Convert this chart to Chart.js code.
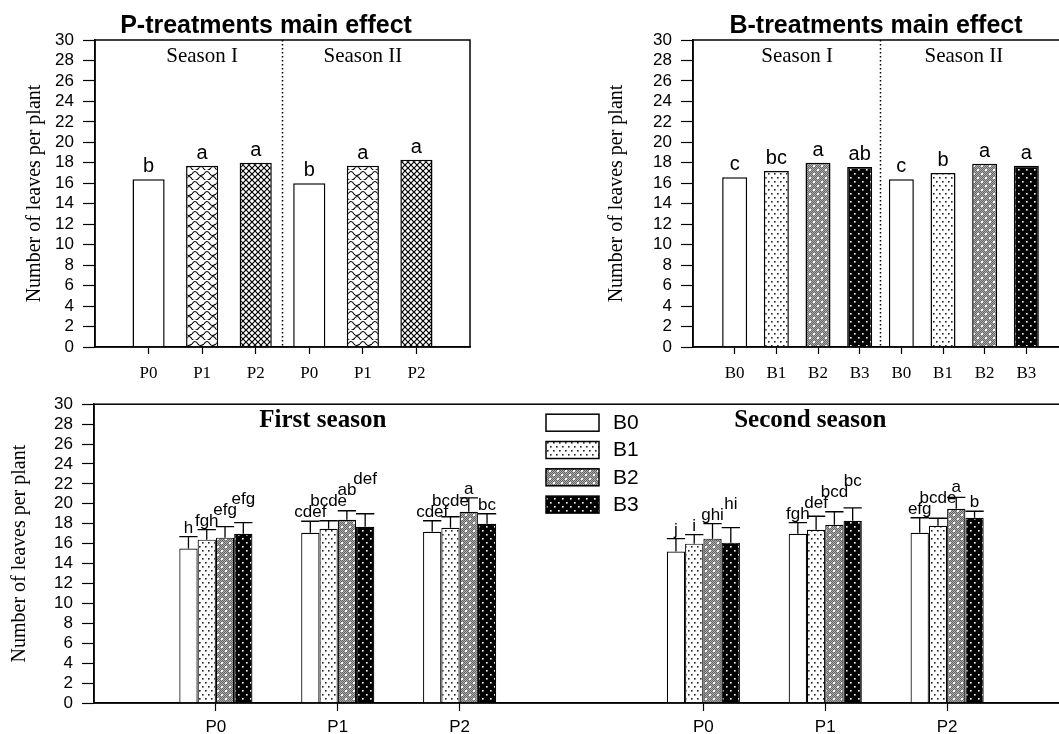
<!DOCTYPE html>
<html>
<head>
<meta charset="utf-8">
<script src="https://cdn.jsdelivr.net/npm/chart.js@4.4.1/dist/chart.umd.min.js"></script>
<style>
  html, body { margin: 0; padding: 0; background: #fff; overflow: hidden; width: 1059px; height: 734px; }
  canvas { position: absolute; }
</style>
</head>
<body>
<canvas id="pChart" width="532" height="385" style="left:0;top:0"></canvas>
<canvas id="bChart" width="632" height="385" style="left:560px;top:0"></canvas>
<canvas id="intChart" width="1100" height="349" style="left:0;top:385px"></canvas>
<script>
// ---- data ----
const pLabels = ['P0', 'P1', 'P2'];
const bLabels = ['B0', 'B1', 'B2', 'B3'];
const seasonLabels = ['Season I', 'Season II'];
const interSeasons = ['First season', 'Second season'];
const yMin = 0, yMax = 30, yStep = 2;

// P-treatments main effect: season I P0-P2, season II P0-P2
const pMeans = [16.4, 17.7, 18.0, 16.0, 17.7, 18.3];
const pLetters = ['b', 'a', 'a', 'b', 'a', 'a'];

// B-treatments main effect: season I B0-B3, season II B0-B3
const bMeans = [16.6, 17.2, 18.0, 17.6, 16.4, 17.0, 17.9, 17.7];
const bLetters = ['c', 'bc', 'a', 'ab', 'c', 'b', 'a', 'a'];

// P x B: first season P0-P2, then second season P0-P2
const b0Means = [15.5, 17.1, 17.2, 15.2, 17.0, 17.1];
const b1Means = [16.4, 17.5, 17.6, 16.0, 17.4, 17.8];
const b2Means = [16.6, 18.4, 19.2, 16.5, 17.9, 19.5];
const b3Means = [17.0, 17.7, 18.0, 16.1, 18.3, 18.6];
const b0Err = [1.2, 1.15, 1.1, 1.3, 1.1, 1.5];
const b1Err = [1.0, 0.8, 1.1, 0.9, 1.35, 0.75];
const b2Err = [1.1, 0.9, 1.4, 1.5, 1.3, 1.15];
const b3Err = [1.1, 1.3, 1.0, 1.5, 1.3, 0.65];
const b0Sig = ['h', 'cdef', 'cdef', 'j', 'fgh', 'efg'];
const b1Sig = ['fgh', 'bcde', 'bcde', 'i', 'def', 'bcde'];
const b2Sig = ['efg', 'ab', 'a', 'ghi', 'bcd', 'a'];
const b3Sig = ['efg', 'def', 'bc', 'hi', 'bc', 'b'];

const SANS = 'Arial, "Liberation Sans", sans-serif';
const SERIF = '"Times New Roman", "Liberation Serif", serif';

Chart.defaults.font.family = SANS;
Chart.defaults.color = '#000';
Chart.defaults.animation = false;

// ---- fill patterns ----
function makePattern(w, h, draw) {
  const c = document.createElement('canvas');
  c.width = w; c.height = h;
  const g = c.getContext('2d');
  draw(g, w, h);
  return g.createPattern(c, 'repeat');
}
const wavePat = makePattern(12, 10, (g, w, h) => {
  g.fillStyle = '#fff'; g.fillRect(0, 0, w, h);
  g.strokeStyle = '#000'; g.lineWidth = 1.2;
  g.beginPath();
  g.moveTo(0, 4); g.quadraticCurveTo(3, -1, 6, 4); g.quadraticCurveTo(8, 7, 12, 4);
  g.moveTo(-6, 9); g.quadraticCurveTo(-3, 4, 0, 9);
  g.moveTo(6, 9); g.quadraticCurveTo(9, 4, 12, 9); g.quadraticCurveTo(14, 12, 18, 9);
  g.moveTo(0, 9); g.quadraticCurveTo(2, 12, 6, 9);
  g.stroke();
});
const crossPat = makePattern(6, 6, (g, w, h) => {
  g.fillStyle = '#fff'; g.fillRect(0, 0, w, h);
  g.strokeStyle = '#000'; g.lineWidth = 1.2;
  g.beginPath();
  g.moveTo(-1, -1); g.lineTo(7, 7);
  g.moveTo(7, -1); g.lineTo(-1, 7);
  g.stroke();
});
const dotPat = makePattern(6, 8, (g, w, h) => {
  g.fillStyle = '#fff'; g.fillRect(0, 0, w, h);
  g.fillStyle = '#222';
  g.fillRect(1, 1, 1.6, 1.6);
  g.fillRect(4, 5, 1.6, 1.6);
});
const grayPat = makePattern(8, 8, (g, w, h) => {
  g.fillStyle = '#666'; g.fillRect(0, 0, w, h);
  g.fillStyle = '#aaa';
  for (let x = 0; x < w; x++) for (let y = 0; y < h; y++) if ((x + y) % 2 === 0) g.fillRect(x, y, 1, 1);
  g.fillStyle = '#fff';
  g.fillRect(1, 1, 2, 2);
  g.fillRect(5, 5, 2, 2);
});
const blackPat = makePattern(8, 8, (g, w, h) => {
  g.fillStyle = '#000'; g.fillRect(0, 0, w, h);
  g.fillStyle = '#fff';
  g.fillRect(2, 1, 1.6, 1.6);
  g.fillRect(6, 5, 1.6, 1.6);
});

const pFills = ['#fff', wavePat, crossPat];
const bFills = ['#fff', dotPat, grayPat, blackPat];

// ---- axes helpers ----
function yAxis(width, titlePad) {
  return {
    min: yMin, max: yMax,
    ticks: { stepSize: yStep, autoSkip: false, font: { size: 17 }, color: '#000', padding: 9 },
    grid: { drawOnChartArea: false, drawTicks: true, tickLength: 12, tickColor: '#000', tickWidth: 1.2 },
    border: { display: true, color: '#000', width: 1.5 },
    title: { display: true, text: 'Number of leaves per plant', color: '#000',
             font: { family: SERIF, size: 20 }, padding: { top: titlePad, bottom: 0 } },
    afterFit: s => { s.width = width; }
  };
}
function xAxis(labels, height, font, tickLen, pad) {
  return {
    type: 'category',
    offset: false,
    grid: { offset: false, drawOnChartArea: false, drawTicks: true, tickLength: tickLen, tickColor: '#000', tickWidth: 1.2 },
    border: { display: true, color: '#000', width: 1.5 },
    ticks: { autoSkip: false, maxRotation: 0, font: font, color: '#000', padding: pad },
    afterBuildTicks: s => { s.ticks = s.ticks.filter(t => labels[t.value] !== ''); },
    afterFit: s => { s.height = height; }
  };
}

// title, frame, season divider, season names and letters for the main-effect panels
function mainDecor(title, groupSize, letters) {
  return {
    id: 'mainDecor',
    afterDatasetsDraw(chart) {
      const ctx = chart.ctx, a = chart.chartArea, x = chart.scales.x;
      ctx.save();
      ctx.fillStyle = '#000';
      ctx.textAlign = 'center';
      ctx.textBaseline = 'alphabetic';
      ctx.font = 'bold 25px ' + SANS;
      ctx.fillText(title, chart.width / 2, 33);

      ctx.strokeStyle = '#000';
      ctx.lineWidth = 1.5;
      ctx.strokeRect(a.left, a.top, a.right - a.left, a.bottom - a.top);
      // dotted divider between seasons
      const dx = x.getPixelForValue(groupSize + 0.5);
      ctx.setLineDash([1.5, 2.5]);
      ctx.beginPath();
      ctx.moveTo(dx, a.top);
      ctx.lineTo(dx, a.bottom);
      ctx.stroke();
      ctx.setLineDash([]);
      // season names
      ctx.font = '21px ' + SERIF;
      seasonLabels.forEach((s, k) => {
        const c = x.getPixelForValue(1 + k * groupSize + (groupSize - 1) / 2);
        ctx.fillText(s, c, a.top + 22);
      });
      // significance letters
      ctx.font = '20px ' + SANS;
      chart.getDatasetMeta(0).data.forEach((el, i) => {
        const t = letters[i - 1];
        if (t) ctx.fillText(t, el.x, el.y - 7);
      });
      ctx.restore();
    }
  };
}

// ---- P-treatments main effect ----
const pAxis = ['', ...pLabels, ...pLabels, ''];
new Chart(document.getElementById('pChart'), {
  type: 'bar',
  data: {
    labels: pAxis,
    datasets: [{
      data: [null, ...pMeans, null],
      backgroundColor: pAxis.map(l => l ? pFills[pLabels.indexOf(l)] : 'transparent'),
      borderColor: '#000',
      borderWidth: 1.5,
      categoryPercentage: 0.6,
      barPercentage: 1
    }]
  },
  options: {
    responsive: false,
    layout: { padding: { top: 40, right: 62, bottom: 0, left: 0 } },
    plugins: {
      legend: { display: false },
      tooltip: { enabled: false }
    },
    scales: {
      x: xAxis(pAxis, 38, { family: SERIF, size: 17 }, 7, 9),
      y: yAxis(95, 23)
    }
  },
  plugins: [mainDecor('P-treatments main effect', pLabels.length, pLetters)]
});

// ---- B-treatments main effect ----
const bAxis = ['', ...bLabels, ...bLabels, ''];
new Chart(document.getElementById('bChart'), {
  type: 'bar',
  data: {
    labels: bAxis,
    datasets: [{
      data: [null, ...bMeans, null],
      backgroundColor: bAxis.map(l => l ? bFills[bLabels.indexOf(l)] : 'transparent'),
      borderColor: '#000',
      borderWidth: 1.5,
      categoryPercentage: 0.6,
      barPercentage: 1
    }]
  },
  options: {
    responsive: false,
    layout: { padding: { top: 40, right: 124, bottom: 0, left: 0 } },
    plugins: {
      legend: { display: false },
      tooltip: { enabled: false }
    },
    scales: {
      x: xAxis(bAxis, 38, { family: SERIF, size: 17 }, 7, 9),
      y: yAxis(133, 45)
    }
  },
  plugins: [mainDecor('B-treatments main effect', bLabels.length, bLetters)]
});

// ---- P x B interaction ----
const interAxis = ['', ...pLabels, '', ...pLabels, ''];
const pad = arr => [null, arr[0], arr[1], arr[2], null, arr[3], arr[4], arr[5], null];
const interMeans = [b0Means, b1Means, b2Means, b3Means].map(pad);
const interErr = [b0Err, b1Err, b2Err, b3Err].map(pad);
const interSig = [b0Sig, b1Sig, b2Sig, b3Sig].map(pad);

const interDecor = {
  id: 'interDecor',
  afterDatasetsDraw(chart) {
    const ctx = chart.ctx, a = chart.chartArea, x = chart.scales.x, y = chart.scales.y;
    ctx.save();
    ctx.strokeStyle = '#000';
    ctx.lineWidth = 1.5;
    ctx.strokeRect(a.left, a.top, a.right - a.left, a.bottom - a.top);

    // error bars (upper half)
    ctx.lineWidth = 1.3;
    interMeans.forEach((means, d) => {
      chart.getDatasetMeta(d).data.forEach((el, j) => {
        if (means[j] == null) return;
        const top = y.getPixelForValue(means[j] + interErr[d][j]);
        const hw = el.width / 2;
        ctx.beginPath();
        ctx.moveTo(el.x, el.y);
        ctx.lineTo(el.x, top);
        ctx.moveTo(el.x - hw, top);
        ctx.lineTo(el.x + hw, top);
        ctx.stroke();
      });
    });

    // letters, nudged up when they would collide with the left neighbour
    ctx.font = '17px ' + SANS;
    ctx.fillStyle = '#000';
    ctx.textAlign = 'center';
    ctx.textBaseline = 'alphabetic';
    interAxis.forEach((lab, j) => {
      if (!lab) return;
      let prev = null;
      interMeans.forEach((means, d) => {
        const el = chart.getDatasetMeta(d).data[j];
        const t = interSig[d][j];
        const w = ctx.measureText(t).width;
        let base = y.getPixelForValue(means[j] + interErr[d][j]) - 4;
        if (prev && el.x - w / 2 < prev.right + 1) base = Math.min(base, prev.base - 11);
        ctx.fillText(t, el.x, base);
        prev = { right: el.x + w / 2, base: base };
      });
    });

    // season titles
    ctx.font = 'bold 25px ' + SERIF;
    interSeasons.forEach((s, k) => {
      ctx.fillText(s, x.getPixelForValue(2 + k * 4) - 15, a.top + 23);
    });

    // legend
    const lx = a.left + 452, ly = a.top + 10;
    ctx.font = '21px ' + SANS;
    ctx.textAlign = 'left';
    ctx.textBaseline = 'middle';
    bLabels.forEach((name, d) => {
      const ty = ly + d * 27.3;
      ctx.fillStyle = bFills[d];
      ctx.fillRect(lx, ty, 53, 17);
      ctx.lineWidth = 1.5;
      ctx.strokeRect(lx, ty, 53, 17);
      ctx.fillStyle = '#000';
      ctx.fillText(name, lx + 67, ty + 9);
    });
    ctx.restore();
  }
};

new Chart(document.getElementById('intChart'), {
  type: 'bar',
  data: {
    labels: interAxis,
    datasets: interMeans.map((m, d) => ({
      label: bLabels[d],
      data: m,
      backgroundColor: bFills[d],
      borderColor: '#000',
      borderWidth: 1.2,
      categoryPercentage: 0.6,
      barPercentage: 1
    }))
  },
  options: {
    responsive: false,
    layout: { padding: { top: 12, right: 31, bottom: 0, left: 0 } },
    plugins: {
      legend: { display: false },
      tooltip: { enabled: false }
    },
    scales: {
      x: xAxis(interAxis, 31, { family: SANS, size: 17 }, 8, 6),
      y: yAxis(94, 8)
    }
  },
  plugins: [interDecor]
});
</script>
</body>
</html>
